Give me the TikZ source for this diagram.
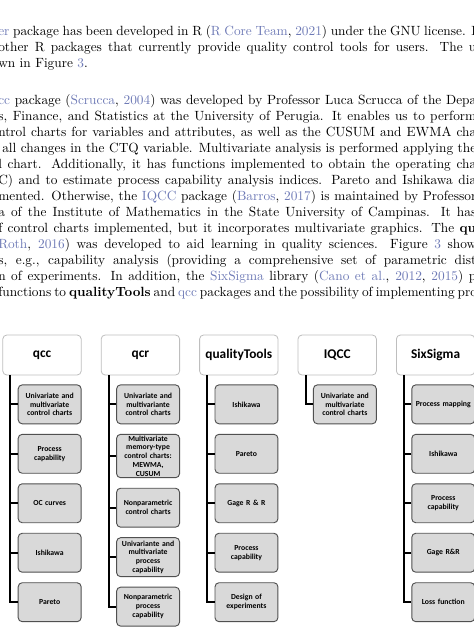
\documentclass[tikz,border=0pt]{standalone}
\usepackage{fontspec}
\newfontfamily\calibri{Carlito}
\usetikzlibrary{positioning}

\definecolor{citeblue}{RGB}{110,122,182}
\definecolor{boxgray}{RGB}{217,217,217}
\definecolor{boxline}{RGB}{80,80,80}
\definecolor{headline}{RGB}{190,190,190}

% one justified line of the running text
\newcommand{\jline}[1]{\makebox[358.5pt][s]{#1}}

\begin{document}
\begin{tikzpicture}[
    x=0.75pt, y=-0.75pt,
    node distance=7.2pt and 14.4pt,
    para/.style={anchor=north west, inner sep=0pt, align=left, font=\fontsize{10}{12}\selectfont},
    pkg/.style={draw=headline, line width=0.6pt, fill=white, rounded corners=3pt, minimum width=58.8pt, minimum height=30pt, inner sep=1pt, font=\calibri\bfseries\fontsize{10}{12}\selectfont},
    tool/.style={draw=boxline, line width=0.7pt, fill=boxgray, rounded corners=3pt, align=center, minimum width=47.2pt, text width=45pt, minimum height=29.2pt, inner sep=1pt, font=\calibri\bfseries\fontsize{5.8}{6.6}\selectfont},
    trunk/.style={line width=1.5pt}
]
\useasboundingbox (0,0) rectangle (474,636);
\clip (0,0) rectangle (474,636);

% ---------- Text above the figure ----------
\node[para] (par1) at (-2,24) {\jline{\strut\textcolor{citeblue}{er} package has been developed in R (\textcolor{citeblue}{R Core Team}, \textcolor{citeblue}{2021}) under the GNU license. I}\\
\jline{other R packages that currently provide quality control tools for users. The u}\\
wn in Figure \textcolor{citeblue}{3}.};

\node[para] (par2) at (-2,93) {\jline{\strut\textcolor{citeblue}{cc} package (\textcolor{citeblue}{Scrucca}, \textcolor{citeblue}{2004}) was developed by Professor Luca Scrucca of the Depa}\\
\jline{s, Finance, and Statistics at the University of Perugia. It enables us to perform}\\
\jline{ntrol charts for variables and attributes, as well as the CUSUM and EWMA cha}\\
\jline{\hspace*{3pt}all changes in the CTQ variable. Multivariate analysis is performed applying the}\\
\jline{l chart. Additionally, it has functions implemented to obtain the operating cha}\\
\jline{C) and to estimate process capability analysis indices. Pareto and Ishikawa dia}\\
\jline{mented. Otherwise, the \textcolor{citeblue}{IQCC} package (\textcolor{citeblue}{Barros}, \textcolor{citeblue}{2017}) is maintained by Professor}\\
\jline{a of the Institute of Mathematics in the State University of Campinas. It has}\\
\jline{f control charts implemented, but it incorporates multivariate graphics. The \textbf{qu}}\\
\jline{\textcolor{citeblue}{Roth}, \textcolor{citeblue}{2016}) was developed to aid learning in quality sciences. Figure \textcolor{citeblue}{3} show}\\
\jline{s, e.g., capability analysis (providing a comprehensive set of parametric dist}\\
\jline{n of experiments. In addition, the \textcolor{citeblue}{SixSigma} library (\textcolor{citeblue}{Cano et al.}, \textcolor{citeblue}{2012}, \textcolor{citeblue}{2015}) p}\\
\jline{functions to \textbf{qualityTools} and \textcolor{citeblue}{qcc} packages and the possibility of implementing proc}};

% ---------- Package headers ----------
\node[pkg] (qcc) at (42,355) {qcc};
\node[pkg, right=of qcc] (qcr) {qcr};
\node[pkg, right=of qcr] (qtools) {qualityTools};
\node[pkg, right=of qtools] (iqcc) {IQCC};
\node[pkg, right=of iqcc] (sixsigma) {SixSigma};

% ---------- qcc tools ----------
\node[tool, below=6.75pt of qcc.south east, anchor=north east] (qcc1) {Univariate and\\multivariate\\control charts};
\node[tool, below=of qcc1] (qcc2) {Process\\capability};
\node[tool, below=of qcc2] (qcc3) {OC curves};
\node[tool, below=of qcc3] (qcc4) {Ishikawa};
\node[tool, below=of qcc4] (qcc5) {Pareto};

% ---------- qcr tools ----------
\node[tool, below=6.75pt of qcr.south east, anchor=north east] (qcr1) {Univariate and\\multivariante\\control charts};
\node[tool, below=of qcr1] (qcr2) {Multivariate\\memory-type\\control charts:\\MEWMA,\\CUSUM};
\node[tool, below=of qcr2] (qcr3) {Nonparametric\\control charts};
\node[tool, below=of qcr3] (qcr4) {Univariante and\\multivariate\\process\\capability};
\node[tool, below=of qcr4] (qcr5) {Nonparametric\\process\\capability};

% ---------- qualityTools tools ----------
\node[tool, below=6.75pt of qtools.south east, anchor=north east] (qtools1) {Ishikawa};
\node[tool, below=of qtools1] (qtools2) {Pareto};
\node[tool, below=of qtools2] (qtools3) {Gage R \& R};
\node[tool, below=of qtools3] (qtools4) {Process\\capability};
\node[tool, below=of qtools4] (qtools5) {Design of\\experiments};

% ---------- IQCC tools ----------
\node[tool, below=6.75pt of iqcc.south east, anchor=north east] (iqcc1) {Univariate and\\multivariate\\control charts};

% ---------- SixSigma tools ----------
\node[tool, below=6.75pt of sixsigma.south east, anchor=north east] (sixsigma1) {Process mapping};
\node[tool, below=of sixsigma1] (sixsigma2) {Ishikawa};
\node[tool, below=of sixsigma2] (sixsigma3) {Process\\capability};
\node[tool, below=of sixsigma3] (sixsigma4) {Gage R\&R};
\node[tool, below=of sixsigma4] (sixsigma5) {Loss function};

% ---------- Trunks and branches ----------
\foreach \p in {qcc,qcr,qtools,iqcc,sixsigma}
  \coordinate (\p top) at ([xshift=6pt]\p.south west);

\draw[trunk] (qcctop) |- (qcc5.west);
\draw[trunk] (qcrtop) |- (qcr5.west);
\draw[trunk] (qtoolstop) |- (qtools5.west);
\draw[trunk] (iqcctop) |- (iqcc1.west);
\draw[trunk] (sixsigmatop) |- (sixsigma5.west);

\foreach \p in {qcc,qcr,qtools,sixsigma}
  \foreach \i in {1,...,4}
    \draw[trunk] (\p\i.west) -| (\p top);

\end{tikzpicture}
\end{document}
